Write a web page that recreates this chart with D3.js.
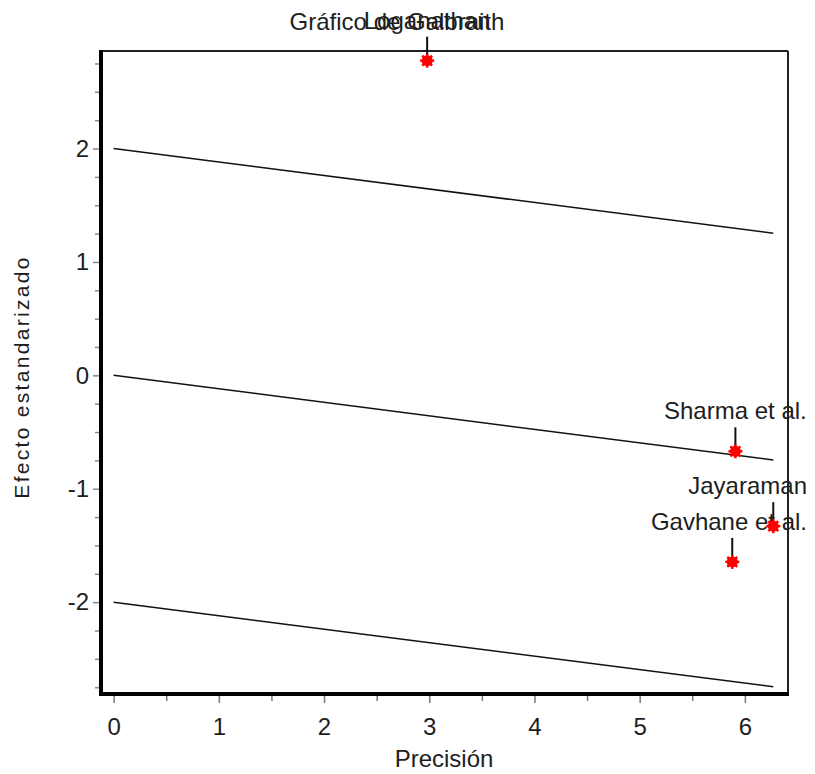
<!DOCTYPE html>
<html>
<head>
<meta charset="utf-8">
<script src="https://cdn.jsdelivr.net/npm/d3@7"></script>
<style>
  html, body { margin: 0; padding: 0; background: #fff; }
  svg { display: block; }
  text { font-family: Arial, "Liberation Sans", sans-serif; fill: #1e1e1e; }
</style>
</head>
<body>
<svg id="chart" width="815" height="774"></svg>
<script>
// Studies: precision (x) and standardized effect (y)
const studies = ["Loganathan", "Sharma et al.", "Jayaraman", "Gavhane et al."];
const precision = [2.98, 5.91, 6.27, 5.88];
const stdEffect = [2.775, -0.67, -1.33, -1.645];

// Galbraith reference lines: pooled line and ±2 bands
const lineIntercepts = [2, 0, -2];
const pooledSlope = -0.119;
const lineXRange = [0, 6.27];

// Axis ticks
const xMajorTicks = [0, 1, 2, 3, 4, 5, 6];
const xMinorTicks = [0.5, 1.5, 2.5, 3.5, 4.5, 5.5];
const yMajorTicks = [-2, -1, 0, 1, 2];
const yMinorTicks = [-2.75, -2.5, -2.25, -1.75, -1.5, -1.25, -0.75, -0.5, -0.25,
                     0.25, 0.5, 0.75, 1.25, 1.5, 1.75, 2.25, 2.5, 2.75];

const svg = d3.select("#chart");
const plotL = 101, plotR = 788, plotT = 51, plotB = 694;

const x = d3.scaleLinear().domain([-0.12, 6.41]).range([plotL, plotR]);
const y = d3.scaleLinear().domain([-2.81, 2.86]).range([plotB, plotT]);

// plain integer labels with an ASCII hyphen for negatives
const intLabel = d => String(d);

// X axis ticks (major + minor) below the frame
const gx = svg.append("g").attr("transform", `translate(0,${plotB + 2})`)
  .call(d3.axisBottom(x).tickValues(xMajorTicks).tickSize(7).tickSizeOuter(0)
    .tickPadding(15).tickFormat(intLabel));
gx.select(".domain").remove();
gx.selectAll(".tick line").attr("stroke", "#777").attr("stroke-width", 1.5);
gx.selectAll(".tick text").style("font-size", "24px").attr("fill", "#1e1e1e");

const gxMinor = svg.append("g").attr("transform", `translate(0,${plotB + 2})`)
  .call(d3.axisBottom(x).tickValues(xMinorTicks).tickSize(5).tickFormat(""));
gxMinor.select(".domain").remove();
gxMinor.selectAll(".tick line").attr("stroke", "#777").attr("stroke-width", 1.5);

// Y axis ticks (major + minor) left of the frame
const gy = svg.append("g").attr("transform", `translate(${plotL - 2},0)`)
  .call(d3.axisLeft(y).tickValues(yMajorTicks).tickSize(6).tickPadding(4).tickFormat(intLabel));
gy.select(".domain").remove();
gy.selectAll(".tick line").attr("stroke", "#888").attr("stroke-width", 1.5);
gy.selectAll(".tick text").style("font-size", "24px").attr("fill", "#1e1e1e");

const gyMinor = svg.append("g").attr("transform", `translate(${plotL - 2},0)`)
  .call(d3.axisLeft(y).tickValues(yMinorTicks).tickSize(4).tickFormat(""));
gyMinor.select(".domain").remove();
gyMinor.selectAll(".tick line").attr("stroke", "#888").attr("stroke-width", 1.5);

// Frame: thin top/right, heavy left/bottom
svg.append("line").attr("x1", plotL).attr("x2", plotR).attr("y1", plotT).attr("y2", plotT)
  .attr("stroke", "#222").attr("stroke-width", 2);
svg.append("line").attr("x1", plotR).attr("x2", plotR).attr("y1", plotT).attr("y2", plotB)
  .attr("stroke", "#222").attr("stroke-width", 2);
svg.append("line").attr("x1", plotL).attr("x2", plotL).attr("y1", plotT - 1).attr("y2", plotB + 2)
  .attr("stroke", "#000").attr("stroke-width", 4);
svg.append("line").attr("x1", plotL - 2).attr("x2", plotR + 1).attr("y1", plotB).attr("y2", plotB)
  .attr("stroke", "#000").attr("stroke-width", 4);

// Reference lines
const line = d3.line().x(d => x(d[0])).y(d => y(d[1]));
svg.append("g").selectAll("path")
  .data(lineIntercepts)
  .join("path")
  .attr("d", c => line(lineXRange.map(p => [p, c + pooledSlope * p])))
  .attr("fill", "none")
  .attr("stroke", "#111")
  .attr("stroke-width", 1.5);

// Points with leader lines and labels
const pts = studies.map((name, i) => ({ name, px: precision[i], py: stdEffect[i] }));
const gp = svg.append("g");

pts.forEach(d => {
  const cx = x(d.px), cy = y(d.py);
  gp.append("line").attr("x1", cx).attr("x2", cx).attr("y1", cy - 24).attr("y2", cy)
    .attr("stroke", "#111").attr("stroke-width", 2);
  const lbl = gp.append("text")
    .attr("x", cx).attr("y", cy - 32)
    .attr("text-anchor", "middle")
    .style("font-size", "24px")
    .text(d.name);
  // keep labels inside the page on the right side
  const w = lbl.node().getComputedTextLength();
  if (cx + w / 2 > 807) lbl.attr("x", 807 - w / 2);
});

// red burst markers
const marker = gp.selectAll("g.mk").data(pts).join("g")
  .attr("class", "mk")
  .attr("transform", d => `translate(${x(d.px)},${y(d.py)})`);
marker.append("circle").attr("r", 5.5).attr("fill", "#ff0000");
[0, 45, 90, 135].forEach(a => {
  marker.append("line")
    .attr("x1", -7).attr("x2", 7).attr("y1", 0).attr("y2", 0)
    .attr("transform", `rotate(${a})`)
    .attr("stroke", "#ff0000").attr("stroke-width", 2.5);
});

// Titles
svg.append("text").attr("x", 397).attr("y", 30).attr("text-anchor", "middle")
  .style("font-size", "24px").text("Gráfico de Galbraith");

svg.append("text").attr("x", 444).attr("y", 767).attr("text-anchor", "middle")
  .style("font-size", "24px").text("Precisión");

svg.append("text")
  .attr("transform", "translate(29,377) rotate(-90)")
  .attr("text-anchor", "middle")
  .style("font-size", "21px")
  .style("letter-spacing", "2.3px")
  .text("Efecto estandarizado");
</script>
</body>
</html>
